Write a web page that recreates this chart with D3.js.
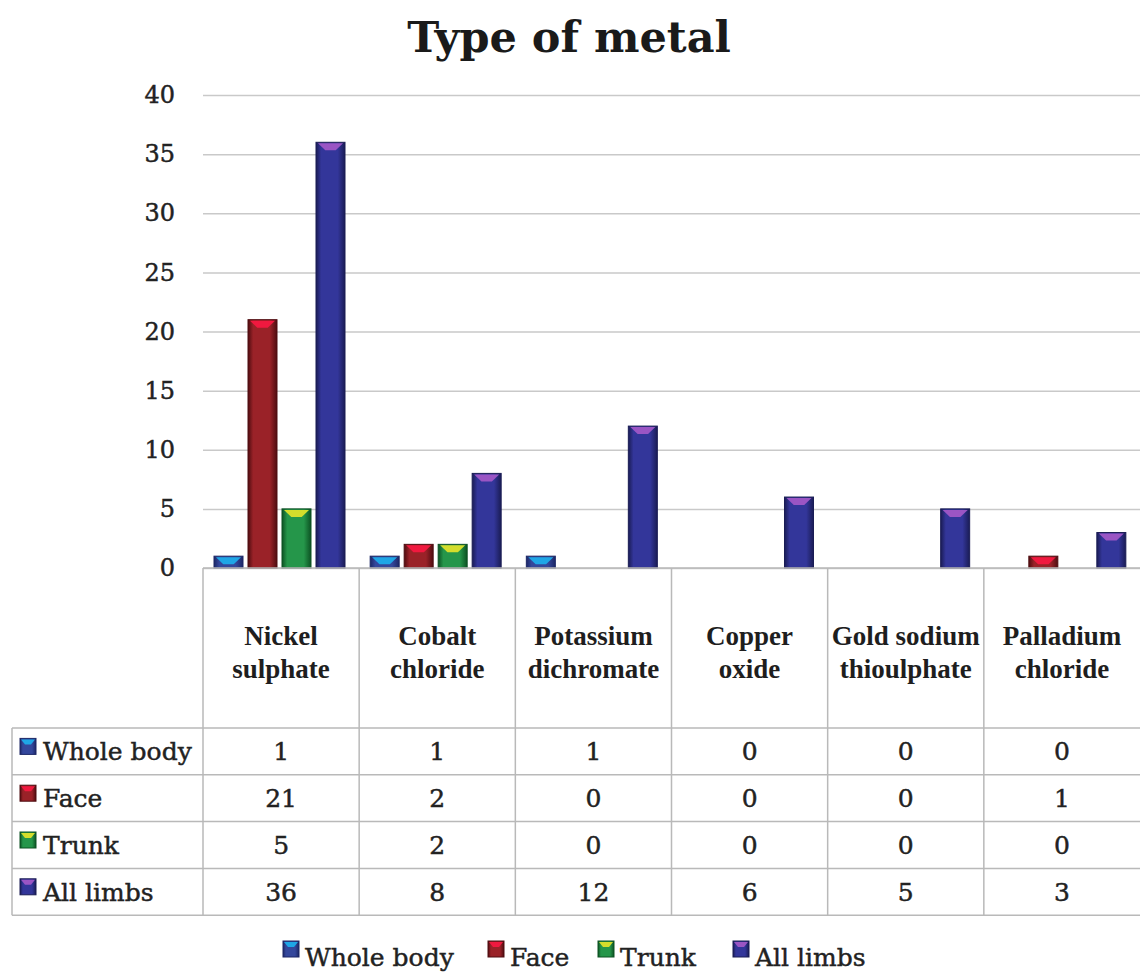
<!DOCTYPE html>
<html>
<head>
<meta charset="utf-8">
<script src="https://cdn.jsdelivr.net/npm/d3@7/dist/d3.min.js"></script>
<style>
  body { margin: 0; background: #fff; }
  svg { display: block; }
  .heavy { stroke: #222; stroke-width: 0.45px; }
</style>
</head>
<body>
<svg id="chart"></svg>
<script>
// ---- data ----
const categories = ["Nickel sulphate", "Cobalt chloride", "Potassium dichromate", "Copper oxide", "Gold sodium thioulphate", "Palladium chloride"];
const categoryLines = [["Nickel", "sulphate"], ["Cobalt", "chloride"], ["Potassium", "dichromate"], ["Copper", "oxide"], ["Gold sodium", "thioulphate"], ["Palladium", "chloride"]];
const seriesNames = ["Whole body", "Face", "Trunk", "All limbs"];
const wholeBody = [1, 1, 1, 0, 0, 0];
const face = [21, 2, 0, 0, 0, 1];
const trunk = [5, 2, 0, 0, 0, 0];
const allLimbs = [36, 8, 12, 6, 5, 3];
const yTicks = [0, 5, 10, 15, 20, 25, 30, 35, 40];

const seriesValues = [wholeBody, face, trunk, allLimbs];
const palette = [
    {key: 'wb', edge: '#1c2766', mid: '#34479c', top: '#1fa6e6'},
    {key: 'fa', edge: '#4f0c10', mid: '#9a2228', top: '#f0193f'},
    {key: 'tr', edge: '#0c5223', mid: '#25964a', top: '#d4dd2c'},
    {key: 'al', edge: '#1a1c55', mid: '#33369a', top: '#9a55c4'}
];

const width = 1140, height = 972;
const plot = {left: 203, right: 1140, top: 95, bottom: 568};
const table = {left: 12, headerBottom: 728, rowH: 46.8};
const serif = "'DejaVu Serif', serif";
const times = "'Liberation Serif', 'Times New Roman', serif";

const svg = d3.select('#chart')
    .attr('width', width)
    .attr('height', height);

// gradients for the bevelled bars
const defs = svg.append('defs');
palette.forEach(p => {
    const g = defs.append('linearGradient')
        .attr('id', `grad-${p.key}`)
        .attr('x1', '0%').attr('x2', '100%').attr('y1', '0%').attr('y2', '0%');
    g.append('stop').attr('offset', '0%').attr('stop-color', p.edge);
    g.append('stop').attr('offset', '18%').attr('stop-color', p.mid);
    g.append('stop').attr('offset', '75%').attr('stop-color', p.mid);
    g.append('stop').attr('offset', '100%').attr('stop-color', p.edge);
});

// ---- scales ----
const xScale = d3.scaleBand()
    .domain(categories)
    .range([plot.left, plot.right]);

const xSub = d3.scaleBand()
    .domain(seriesNames)
    .range([11, 142])
    .paddingInner(0.147);

const yScale = d3.scaleLinear()
    .domain([0, 40])
    .range([plot.bottom, plot.top]);

// title
svg.append('text')
    .attr('x', 569)
    .attr('y', 52)
    .attr('text-anchor', 'middle')
    .attr('font-family', serif)
    .attr('font-weight', 'bold')
    .attr('font-size', 43)
    .attr('fill', '#1a1a1a')
    .text('Type of metal');

// y axis with gridlines
const yAxis = d3.axisLeft(yScale)
    .tickValues(yTicks)
    .tickSizeInner(-(plot.right - plot.left))
    .tickSizeOuter(0)
    .tickPadding(28);

const yAxisG = svg.append('g')
    .attr('transform', `translate(${plot.left},0)`)
    .call(yAxis);
yAxisG.select('.domain').remove();
yAxisG.selectAll('.tick line').attr('stroke', '#c9c9c9').attr('stroke-width', 1.5);
yAxisG.selectAll('.tick text')
    .attr('class', 'heavy')
    .attr('font-family', serif)
    .attr('font-size', 24)
    .attr('fill', '#222');

// ---- bars ----
const barGroups = svg.append('g').selectAll('g')
    .data(categories)
    .join('g')
    .attr('transform', d => `translate(${xScale(d)},0)`);

const bars = barGroups.selectAll('g.bar')
    .data((c, i) => seriesNames.map((s, j) => ({series: s, j: j, value: seriesValues[j][i]})).filter(d => d.value > 0))
    .join('g')
    .attr('class', 'bar');

bars.append('rect')
    .attr('x', d => xSub(d.series))
    .attr('y', d => yScale(d.value))
    .attr('width', xSub.bandwidth())
    .attr('height', d => yScale(0) - yScale(d.value))
    .attr('fill', d => `url(#grad-${palette[d.j].key})`)
    .attr('stroke', d => palette[d.j].edge)
    .attr('stroke-width', 1);

// bright chevron on top of each bar
bars.append('path')
    .attr('d', d => {
        const x0 = xSub(d.series), w = xSub.bandwidth(), y0 = yScale(d.value);
        const h = Math.min(7, (yScale(0) - y0) - 2);
        return `M${x0 + 2},${y0 + 1}L${x0 + w - 2},${y0 + 1}L${x0 + w * 0.68},${y0 + 1 + h}L${x0 + w * 0.32},${y0 + 1 + h}Z`;
    })
    .attr('fill', d => palette[d.j].top);

// ---- data table ----
const grid = svg.append('g').attr('stroke', '#b9b9b9').attr('stroke-width', 1.5).attr('fill', 'none');
const tableBottom = table.headerBottom + table.rowH * seriesNames.length;

// axis base line
grid.append('line')
    .attr('x1', plot.left).attr('x2', plot.right)
    .attr('y1', plot.bottom).attr('y2', plot.bottom);

// horizontal row lines
d3.range(seriesNames.length + 1).forEach(i => {
    const y = table.headerBottom + table.rowH * i;
    grid.append('line')
        .attr('x1', table.left).attr('x2', plot.right)
        .attr('y1', y).attr('y2', y);
});

// vertical lines
grid.append('line')
    .attr('x1', table.left).attr('x2', table.left)
    .attr('y1', table.headerBottom).attr('y2', tableBottom);
categories.forEach(c => {
    grid.append('line')
        .attr('x1', xScale(c)).attr('x2', xScale(c))
        .attr('y1', plot.bottom).attr('y2', tableBottom);
});

// category headers
const headers = svg.append('g').selectAll('text')
    .data(categories)
    .join('text')
    .attr('x', d => xScale(d) + xScale.bandwidth() / 2)
    .attr('y', 645)
    .attr('text-anchor', 'middle')
    .attr('font-family', times)
    .attr('font-weight', 'bold')
    .attr('font-size', 27)
    .attr('fill', '#1e1e1e');
headers.selectAll('tspan')
    .data((d, i) => categoryLines[i])
    .join('tspan')
    .attr('x', function() { return d3.select(this.parentNode).attr('x'); })
    .attr('dy', (d, i) => i === 0 ? 0 : 33)
    .text(d => d);

// legend key helper
function drawKey(g, x, y, j) {
    const p = palette[j];
    g.append('rect')
        .attr('x', x).attr('y', y).attr('width', 16).attr('height', 16)
        .attr('fill', `url(#grad-${p.key})`)
        .attr('stroke', p.edge);
    g.append('path')
        .attr('d', `M${x + 1},${y + 1}L${x + 15},${y + 1}L${x + 11},${y + 6}L${x + 5},${y + 6}Z`)
        .attr('fill', p.top);
}

// row labels and values
const rows = svg.append('g');
seriesNames.forEach((s, j) => {
    const yMid = table.headerBottom + table.rowH * (j + 0.5);
    drawKey(rows, 20, yMid - 13, j);
    rows.append('text')
        .attr('class', 'heavy')
        .attr('x', 43)
        .attr('y', yMid + 9)
        .attr('font-family', serif)
        .attr('font-size', 25)
        .attr('fill', '#222')
        .text(s);
    rows.selectAll(null)
        .data(seriesValues[j])
        .join('text')
        .attr('class', 'heavy')
        .attr('x', (d, i) => xScale(categories[i]) + xScale.bandwidth() / 2)
        .attr('y', yMid + 9)
        .attr('text-anchor', 'middle')
        .attr('font-family', serif)
        .attr('font-size', 25)
        .attr('fill', '#222')
        .text(d => d);
});

// bottom legend
const legendX = [283, 488, 598, 733];
const legend = svg.append('g');
seriesNames.forEach((s, j) => {
    drawKey(legend, legendX[j], 941, j);
    legend.append('text')
        .attr('class', 'heavy')
        .attr('x', legendX[j] + 22)
        .attr('y', 966)
        .attr('font-family', serif)
        .attr('font-size', 25)
        .attr('fill', '#222')
        .text(s);
});
</script>
</body>
</html>
